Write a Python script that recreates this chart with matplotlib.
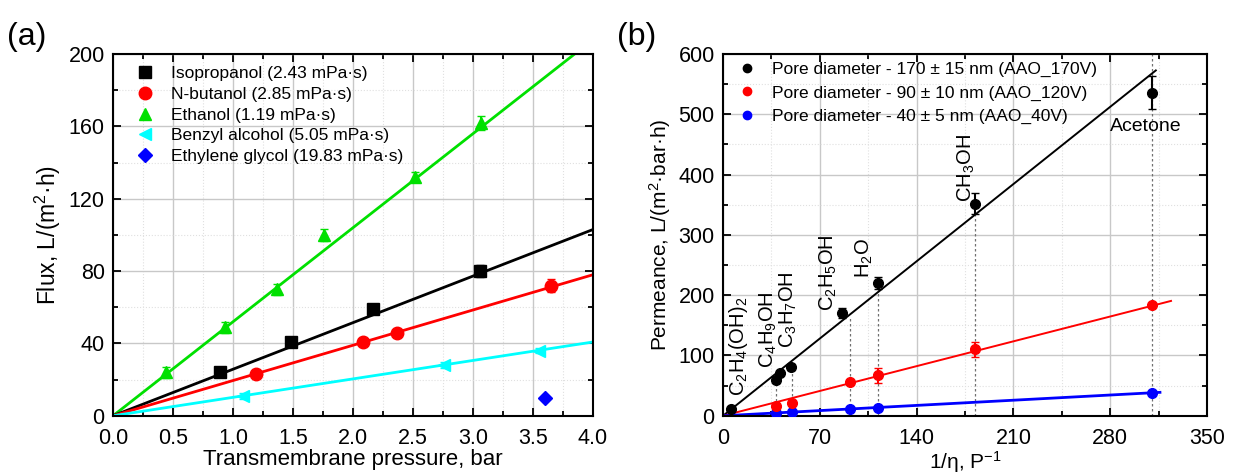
import numpy as np
import matplotlib.pyplot as plt
from matplotlib.ticker import MultipleLocator

plt.rcParams['font.family'] = ['Liberation Sans', 'DejaVu Sans']
plt.rcParams['mathtext.fontset'] = 'custom'
plt.rcParams['mathtext.rm'] = 'Liberation Sans'
plt.rcParams['mathtext.it'] = 'Liberation Sans'

# ---- panel (a) data: flux vs transmembrane pressure
iso_p = [0.89, 1.48, 2.17, 3.06]
iso_f = [24, 41, 59, 80]
iso_err = [1.5, 1.5, 2.5, 3.5]
but_p = [1.19, 2.08, 2.37, 3.65]
but_f = [23, 41, 46, 72]
but_err = [1.5, 1.5, 1.5, 3.5]
eth_p = [0.44, 0.93, 1.37, 1.76, 2.52, 3.07]
eth_f = [24, 49, 70, 100, 132, 162]
eth_err = [3, 3, 3, 3.5, 3, 4]
benz_p = [1.08, 2.76, 3.55]
benz_f = [11, 28, 36]
benz_err = [1.5, 1.5, 1.5]
eg_p = [3.6]
eg_f = [10]
# fitted slopes through origin
slope_a = {'iso': 25.75, 'but': 19.5, 'eth': 52.0, 'benz': 10.2}

# ---- panel (b) data: permeance vs 1/viscosity
inv_eta_170 = [6, 38.5, 41, 49, 86, 112, 182.5, 310]
perm_170 = [12, 60, 71, 81, 171, 220, 352, 536]
err_170 = [3, 5, 4, 5, 8, 10, 17, 27]
inv_eta_120 = [38.5, 50, 91.5, 112, 182.5, 310]
perm_120 = [16, 21, 56, 67, 110, 183]
err_120 = [3, 3, 4, 12, 13, 3]
inv_eta_40 = [38.5, 50, 91.5, 112, 310]
perm_40 = [4, 6, 11, 13, 38]
slope_b = [1.83, 0.588, 0.123]
fit_end_b = [313, 324, 316]

# solvent labels (rotated) and guide lines
solv_x = [38.5, 50, 91.5, 112, 182.5, 310]
solv_top = [60, 81, 165, 215, 340, 600]
lab_text = [r'C$_2$H$_4$(OH)$_2$', r'C$_4$H$_9$OH', r'C$_3$H$_7$OH',
            r'C$_2$H$_5$OH', r'H$_2$O', r'CH$_3$OH']
lab_x = [11, 33, 47.5, 76, 102.5, 176]
lab_y = [32, 80, 113, 173, 228, 355]

fig = plt.figure(figsize=(12.34, 4.76), dpi=100)
ax1 = fig.add_axes([0.0916, 0.1265, 0.389, 0.760])
ax2 = fig.add_axes([0.5859, 0.1265, 0.3922, 0.760])


def style(ax):
    ax.tick_params(which='both', direction='in', top=True, right=True,
                   labelsize=15.5, width=1.3)
    ax.tick_params(which='major', length=6)
    ax.tick_params(which='minor', length=3.5)
    ax.tick_params(axis='x', pad=9)
    ax.tick_params(axis='y', pad=6)
    for s in ax.spines.values():
        s.set_linewidth(1.5)
    ax.grid(True, which='major', color='#c8c8c8', lw=1.0)
    ax.grid(True, which='minor', color='#e0e0e0', lw=0.8, ls=':')
    ax.set_axisbelow(True)


# ---- panel (a)
xx = np.array([0, 4.0])
ax1.plot(xx, slope_a['eth'] * xx, color='#00e000', lw=2)
ax1.plot(xx, slope_a['iso'] * xx, color='k', lw=2)
ax1.plot(xx, slope_a['but'] * xx, color='#ff0000', lw=2)
ax1.plot(xx, slope_a['benz'] * xx, color='#00ffff', lw=2)

ax1.errorbar(iso_p, iso_f, yerr=iso_err, fmt='s', color='k', ms=8, capsize=3)
ax1.errorbar(but_p, but_f, yerr=but_err, fmt='o', color='#ff0000', ms=9, capsize=3)
ax1.errorbar(eth_p, eth_f, yerr=eth_err, fmt='^', color='#00e000', ms=9, capsize=3)
ax1.errorbar(benz_p, benz_f, yerr=benz_err, fmt='<', color='#00ffff', ms=9, capsize=3)
ax1.plot(eg_p, eg_f, 'D', color='#0000ff', ms=7)

h1 = [ax1.plot([], [], 's', color='k', ms=8)[0],
      ax1.plot([], [], 'o', color='#ff0000', ms=9)[0],
      ax1.plot([], [], '^', color='#00e000', ms=9)[0],
      ax1.plot([], [], '<', color='#00ffff', ms=9)[0],
      ax1.plot([], [], 'D', color='#0000ff', ms=7)[0]]
l1 = ['Isopropanol (2.43 mPa·s)', 'N-butanol (2.85 mPa·s)', 'Ethanol (1.19 mPa·s)',
      'Benzyl alcohol (5.05 mPa·s)', 'Ethylene glycol (19.83 mPa·s)']
ax1.legend(h1, l1, loc='upper left', frameon=False, fontsize=12.5,
           labelspacing=0.32, handletextpad=0.45, borderaxespad=0.3,
           bbox_to_anchor=(0.006, 1.0))

ax1.set_xlim(0, 4.0)
ax1.set_ylim(0, 200)
ax1.xaxis.set_major_locator(MultipleLocator(0.5))
ax1.xaxis.set_minor_locator(MultipleLocator(0.25))
ax1.yaxis.set_major_locator(MultipleLocator(40))
ax1.yaxis.set_minor_locator(MultipleLocator(20))
ax1.xaxis.set_major_formatter(plt.FormatStrFormatter('%.1f'))
style(ax1)
ax1.set_xlabel('Transmembrane pressure, bar', fontsize=16, labelpad=0)
ax1.set_ylabel(r'Flux, L/(m$^2$·h)', fontsize=16.5, labelpad=4)
fig.text(0.006, 0.905, '(a)', fontsize=23)

# ---- panel (b)
for xv, top in zip(solv_x, solv_top):
    ax2.plot([xv, xv], [0, top], ls=(0, (2, 2)), color='#707070', lw=0.9, zorder=1)

cols = ['k', '#ff0000', '#0000ff']
lws = [1.4, 1.4, 2.0]
for sl, xe, c, lw in zip(slope_b, fit_end_b, cols, lws):
    xb = np.array([0, xe])
    ax2.plot(xb, sl * xb, color=c, lw=lw, zorder=2)

ax2.errorbar(inv_eta_170, perm_170, yerr=err_170, fmt='o', color='k', ms=7,
             capsize=3, zorder=3)
ax2.errorbar(inv_eta_120, perm_120, yerr=err_120, fmt='o', color='#ff0000', ms=7,
             capsize=3, zorder=3)
ax2.plot(inv_eta_40, perm_40, 'o', color='#0000ff', ms=7, zorder=3)

h2 = [ax2.plot([], [], 'o', color=c, ms=6)[0] for c in cols]
l2 = ['Pore diameter - 170 ± 15 nm (AAO_170V)',
      'Pore diameter - 90 ± 10 nm (AAO_120V)',
      'Pore diameter - 40 ± 5 nm (AAO_40V)']
ax2.legend(h2, l2, loc='upper left', frameon=False, fontsize=12.5,
           labelspacing=0.47, handletextpad=0.45, borderaxespad=0.3,
           bbox_to_anchor=(-0.011, 1.012))

for t, xv, yv in zip(lab_text, lab_x, lab_y):
    ax2.text(xv, yv, t, rotation=90, ha='center', va='bottom', fontsize=14.5)
ax2.text(306, 480, 'Acetone', ha='center', va='center', fontsize=14)

ax2.set_xlim(0, 350)
ax2.set_ylim(0, 600)
ax2.xaxis.set_major_locator(MultipleLocator(70))
ax2.xaxis.set_minor_locator(MultipleLocator(35))
ax2.yaxis.set_major_locator(MultipleLocator(100))
ax2.yaxis.set_minor_locator(MultipleLocator(50))
style(ax2)
ax2.set_xlabel(r'1/η, P$^{-1}$', fontsize=15, labelpad=0)
ax2.set_ylabel(r'Permeance, L/(m$^2$·bar·h)', fontsize=15, labelpad=4)
fig.text(0.500, 0.905, '(b)', fontsize=23)

fig.savefig('out.png', dpi=100)
